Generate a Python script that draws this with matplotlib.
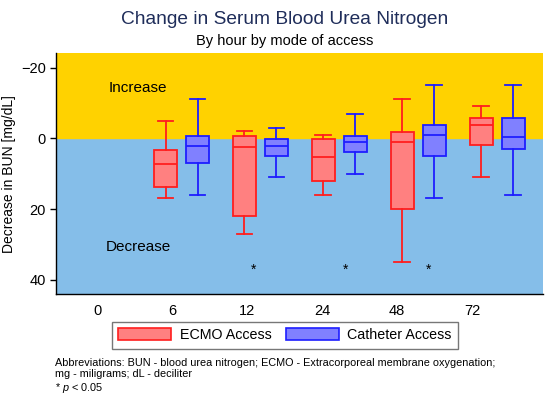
import matplotlib
matplotlib.use("Agg")
import matplotlib.pyplot as plt
from matplotlib.patches import Patch
import numpy as np

plt.rcParams["font.family"] = ["Liberation Sans", "DejaVu Sans"]
plt.rcParams["mathtext.fontset"] = "custom"
plt.rcParams["mathtext.it"] = "Liberation Sans:italic"
plt.rcParams["mathtext.rm"] = "Liberation Sans"

# hours (x tick labels); hour 0 has no boxes
hours = ["0", "6", "12", "24", "48", "72"]

# box stats per hour 6..72 (decrease in BUN, mg/dL): whislo, q1, med, q3, whishi
ecmo_lo = [-5, -2, -1, -11, -9]
ecmo_q1 = [3.3, -0.7, 0.3, -1.7, -5.6]
ecmo_med = [7.2, 2.6, 5.2, 1.1, -3.8]
ecmo_q3 = [13.8, 21.9, 12.0, 19.9, 2.0]
ecmo_hi = [17, 27, 16, 35, 11]

cath_lo = [-11, -3, -7, -15, -15]
cath_q1 = [-0.7, 0.3, -0.7, -3.7, -5.6]
cath_med = [2.1, 2.1, 1.1, -0.8, -0.4]
cath_q3 = [7.0, 5.0, 4.0, 5.0, 3.0]
cath_hi = [16, 11, 10, 17, 16]

# significance stars (x in group units, y value)
star_x = [1.91, 3.08, 4.13]
star_y = [37.3, 37.3, 37.3]

red_edge, red_fill = "#FF1E1E", "#FF8080"
blue_edge, blue_fill = "#1E1EFF", "#8080FF"


def make_stats(lo, q1, med, q3, hi):
    return [dict(whislo=a, q1=b, med=c, q3=d, whishi=e, fliers=[])
            for a, b, c, d, e in zip(lo, q1, med, q3, hi)]


fig = plt.figure(figsize=(5.5, 3.98), dpi=100)
ax = fig.add_axes([0.1013, 0.2606, 0.8857, 0.6062])

ylo, yhi = -24.1, 44.1
ax.set_facecolor("#85BEE9")
ax.axhspan(ylo, 0, color="#FFD200", zorder=0)

groups = np.arange(1, 6)
off = 0.2025
for stats, pos, ec, fc in [
    (make_stats(ecmo_lo, ecmo_q1, ecmo_med, ecmo_q3, ecmo_hi), groups - off, red_edge, red_fill),
    (make_stats(cath_lo, cath_q1, cath_med, cath_q3, cath_hi), groups + off, blue_edge, blue_fill),
]:
    ax.bxp(stats, positions=pos, widths=0.29, capwidths=0.2, patch_artist=True,
           showfliers=False,
           boxprops=dict(facecolor=fc, edgecolor=ec, linewidth=1.3),
           medianprops=dict(color=ec, linewidth=1.3),
           whiskerprops=dict(color=ec, linewidth=1.3),
           capprops=dict(color=ec, linewidth=1.3),
           zorder=3)

for x, y in zip(star_x, star_y):
    ax.text(x, y, "*", ha="center", va="center", fontsize=10, zorder=4)

ax.text(0.08, -14.3, "Increase", fontsize=11, ha="left", va="center")
ax.text(0.04, 30.6, "Decrease", fontsize=11, ha="left", va="center")

tick_pos = np.arange(len(hours)) * 0.949 - 0.063
ax.set_xticks(tick_pos)
ax.set_xticklabels(hours, fontsize=10.5)
ax.tick_params(axis="x", length=0, pad=7)
ax.set_xlim(-0.595, 5.58)

ax.set_ylim(yhi, ylo)
ax.set_yticks([-20, 0, 20, 40])
ax.tick_params(axis="y", length=4, width=1, labelsize=10.5, pad=3)
ax.set_ylabel("Decrease in BUN [mg/dL]", fontsize=10, labelpad=4)

for s in ["top", "right"]:
    ax.spines[s].set_visible(False)
for s in ["left", "bottom"]:
    ax.spines[s].set_linewidth(1)
    ax.spines[s].set_color("black")
    ax.spines[s].set_zorder(5)

fig.text(0.518, 0.952, "Change in Serum Blood Urea Nitrogen", ha="center", va="center",
         fontsize=13.8, color="#1F2D5A")
fig.text(0.518, 0.897, "By hour by mode of access", ha="center", va="center", fontsize=10.5)

handles = [Patch(facecolor=red_fill, edgecolor=red_edge, linewidth=1.2),
           Patch(facecolor=blue_fill, edgecolor=blue_edge, linewidth=1.2)]
leg = fig.legend(handles, ["ECMO Access", "Catheter Access"], ncol=2, fontsize=10.3,
                 loc="center", bbox_to_anchor=(0.518, 0.158), frameon=True, fancybox=False,
                 handlelength=3.7, handleheight=0.95, columnspacing=1.0, handletextpad=0.6,
                 borderpad=0.45)
leg.get_frame().set_edgecolor("#555555")
leg.get_frame().set_linewidth(1)

fig.text(0.1, 0.1,
         "Abbreviations: BUN - blood urea nitrogen; ECMO - Extracorporeal membrane oxygenation;\n"
         "mg - miligrams; dL - deciliter\n"
         "* $p$ < 0.05",
         ha="left", va="top", fontsize=7.8, linespacing=1.15)

fig.savefig("out.png", dpi=100)
